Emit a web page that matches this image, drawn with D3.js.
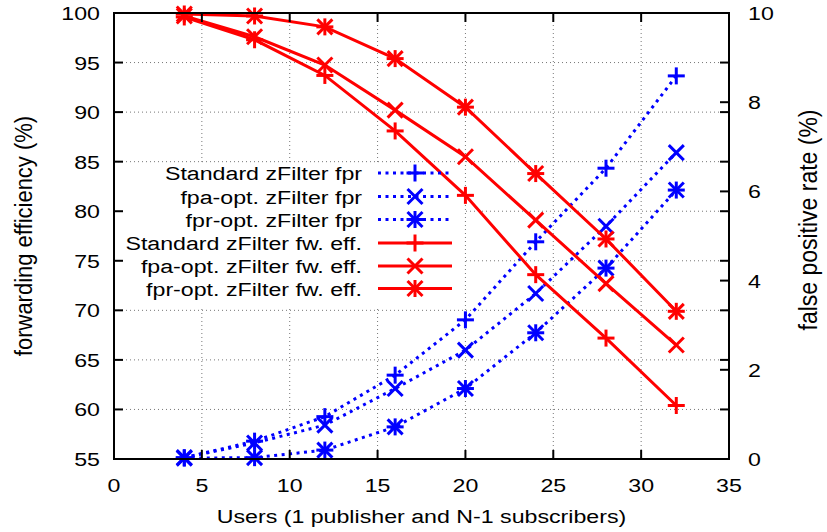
<!DOCTYPE html>
<html><head><meta charset="utf-8">
<script src="https://cdn.jsdelivr.net/npm/d3@7"></script>
<style>body{margin:0;background:#fff} text{font-family:"Liberation Sans",Arial,Helvetica,sans-serif;fill:#000}</style>
</head><body>
<svg id="c" width="827" height="532"></svg>
<script>
// ---- data ----
const users   = [4, 8, 12, 16, 20, 24, 28, 32];
const stdFpr  = [0.03, 0.40, 0.95, 1.88, 3.12, 4.87, 6.52, 8.59];
const fpaFpr  = [0.03, 0.36, 0.76, 1.58, 2.44, 3.71, 5.22, 6.87];
const fprFpr  = [0.02, 0.03, 0.20, 0.72, 1.58, 2.83, 4.28, 6.03];
const stdEff  = [99.6, 97.3, 93.7, 88.1, 81.6, 73.6, 67.2, 60.4];
const fpaEff  = [99.7, 97.6, 94.75, 90.2, 85.5, 79.1, 72.7, 66.5];
const fprEff  = [99.9, 99.7, 98.6, 95.4, 90.5, 83.8, 77.2, 69.9];
const xTicks  = [0, 5, 10, 15, 20, 25, 30, 35];
const yTicks  = [55, 60, 65, 70, 75, 80, 85, 90, 95, 100];
const y2Ticks = [0, 2, 4, 6, 8, 10];
const seriesNames = ["Standard zFilter fpr", "fpa-opt. zFilter fpr", "fpr-opt. zFilter fpr",
                     "Standard zFilter fw. eff.", "fpa-opt. zFilter fw. eff.", "fpr-opt. zFilter fw. eff."];

const svg = d3.select("#c");
const L = 114, R = 729, T = 13, B = 459;
const x = d3.scaleLinear().domain([0, 35]).range([L, R]);
const y = d3.scaleLinear().domain([55, 100]).range([B, T]);
const y2 = d3.scaleLinear().domain([0, 10]).range([B, T]);
const SX = 1.22, FS = 19;

function txt(px, py, s, anchor, rot) {
  const t = svg.append("text").attr("font-size", FS).attr("text-anchor", anchor || "middle")
    .attr("transform", `translate(${px},${py}) scale(${SX},1)` + (rot ? ` rotate(${rot})` : ""))
    .text(s);
  return t;
}

// grid
const grid = svg.append("g").attr("stroke", "#777").attr("stroke-width", 1).attr("stroke-dasharray", "1,3");
xTicks.filter(v => v > 0 && v < 35).forEach(v => grid.append("line")
  .attr("x1", x(v)).attr("x2", x(v)).attr("y1", T).attr("y2", B));
yTicks.filter(v => v > 55 && v < 100).forEach(v => grid.append("line")
  .attr("x1", L).attr("x2", R).attr("y1", y(v)).attr("y2", y(v)));

// opaque key background
svg.append("rect").attr("x", L + 2).attr("y", 163).attr("width", 348).attr("height", 145).attr("fill", "#fff");

// markers
function marker(g, type, cx, cy, color) {
  const s = 8.5, d = 7.5;
  const segs = [];
  if (type === "plus" || type === "star") { segs.push([-s, 0, s, 0], [0, -s, 0, s]); }
  if (type === "cross" || type === "star") { segs.push([-d, -d, d, d], [-d, d, d, -d]); }
  segs.forEach(p => g.append("line").attr("x1", cx + p[0]).attr("y1", cy + p[1])
    .attr("x2", cx + p[2]).attr("y2", cy + p[3]).attr("stroke", color).attr("stroke-width", 3));
}

const series = [
  {name: seriesNames[0], vals: stdFpr, sc: y2, color: "#0000ff", dash: "3,4.5", m: "plus"},
  {name: seriesNames[1], vals: fpaFpr, sc: y2, color: "#0000ff", dash: "3,4.5", m: "cross"},
  {name: seriesNames[2], vals: fprFpr, sc: y2, color: "#0000ff", dash: "3,4.5", m: "star"},
  {name: seriesNames[3], vals: stdEff, sc: y,  color: "#ff0000", dash: null, m: "plus"},
  {name: seriesNames[4], vals: fpaEff, sc: y,  color: "#ff0000", dash: null, m: "cross"},
  {name: seriesNames[5], vals: fprEff, sc: y,  color: "#ff0000", dash: null, m: "star"}
];

const plot = svg.append("g");
series.forEach(s => {
  const line = d3.line().x((d, i) => x(users[i])).y(d => s.sc(d));
  plot.append("path").attr("d", line(s.vals)).attr("fill", "none").attr("stroke", s.color)
    .attr("stroke-width", 3).attr("stroke-dasharray", s.dash);
  s.vals.forEach((v, i) => marker(plot, s.m, x(users[i]), s.sc(v), s.color));
});

// legend
const keyY = [173, 196.5, 219.5, 243, 266, 288.5];
series.forEach((s, i) => {
  txt(362, keyY[i] + 7, s.name, "end");
  svg.append("line").attr("x1", 378).attr("x2", 452).attr("y1", keyY[i]).attr("y2", keyY[i])
    .attr("stroke", s.color).attr("stroke-width", 3).attr("stroke-dasharray", s.dash);
  marker(svg, s.m, 415, keyY[i], s.color);
});

// border + ticks
svg.append("rect").attr("x", L).attr("y", T).attr("width", R - L).attr("height", B - T)
  .attr("fill", "none").attr("stroke", "#000").attr("stroke-width", 2);
const tk = svg.append("g").attr("stroke", "#000").attr("stroke-width", 2);
const TL = 9;
xTicks.forEach(v => {
  tk.append("line").attr("x1", x(v)).attr("x2", x(v)).attr("y1", B).attr("y2", B - TL);
  tk.append("line").attr("x1", x(v)).attr("x2", x(v)).attr("y1", T).attr("y2", T + TL);
  txt(x(v), 492, String(v), "middle");
});
yTicks.forEach(v => {
  tk.append("line").attr("x1", L).attr("x2", L + TL).attr("y1", y(v)).attr("y2", y(v));
  tk.append("line").attr("x1", R).attr("x2", R - TL).attr("y1", y(v)).attr("y2", y(v));
  txt(100, y(v) + 7, String(v), "end");
});
y2Ticks.forEach(v => {
  tk.append("line").attr("x1", R).attr("x2", R - TL).attr("y1", y2(v)).attr("y2", y2(v));
  txt(748, y2(v) + 7, String(v), "start");
});

// axis titles
txt((L + R) / 2, 523, "Users (1 publisher and N-1 subscribers)", "middle");
svg.append("text").attr("font-size", 22).attr("text-anchor", "middle")
  .attr("transform", `translate(32,${(T + B) / 2}) scale(1.1,1) rotate(-90)`)
  .text("forwarding efficiency (%)");
svg.append("text").attr("font-size", 23).attr("text-anchor", "middle")
  .attr("transform", `translate(817,${(T + B) / 2 - 16}) scale(1.1,1) rotate(-90)`)
  .text("false positive rate (%)");
</script>
</body></html>
